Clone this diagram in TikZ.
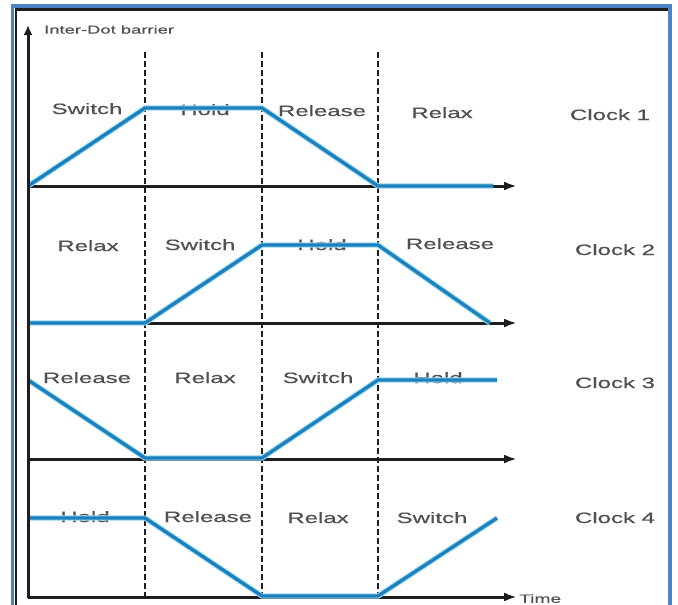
\documentclass[tikz,border=0pt]{standalone}
\usepackage{fontspec}
\setmainfont{Liberation Sans}
\newfontfamily\widefont[FakeStretch=1.6,FakeBold=0.5]{Liberation Sans}
\usetikzlibrary{arrows.meta}
\definecolor{wavecore}{RGB}{28,128,188}
\definecolor{waveglow}{RGB}{150,215,240}
\definecolor{labelgray}{RGB}{80,80,80}
\definecolor{frameblue}{RGB}{75,130,200}
\definecolor{axisblack}{RGB}{30,30,30}
\tikzset{
  axisline/.style={line width=3pt, draw=axisblack, -{Latex[length=13pt,width=9pt]}},
  divider/.style={line width=2.8pt, draw=axisblack, dash pattern=on 6pt off 3pt},
  waveline/.style={line width=3.2pt, draw=wavecore, line join=miter,
    preaction={draw=waveglow, line width=5.4pt}},
  lbl/.style={font=\widefont\fontsize{15}{16}\selectfont, text=labelgray, anchor=base, inner sep=0pt},
  small/.style={font=\widefont\fontsize{#1}{#1}\selectfont, text=labelgray, anchor=west, inner sep=0pt}
}
\begin{document}
\begin{tikzpicture}[x=1pt,y=-1pt]
  \useasboundingbox[fill=white] (0,0) rectangle (678,605);

  % outer frame
  \draw[frameblue, line width=3.2pt] (12.5,610) -- (12.5,6) -- (670,6) -- (670,610);
  \draw[axisblack, line width=2.2pt] (16,610) -- (16,9.5) -- (668,9.5);

  % phase dividers
  \foreach \x in {145,262,378}
    \draw[divider] (\x,52) -- (\x,600);

  % time axes of the four clocks
  \coordinate (o1) at (28,186);
  \coordinate (o2) at (28,323);
  \coordinate (o3) at (28,459);
  \coordinate (o4) at (28,597);
  \draw[axisline] (o1) -- (517,186);
  \draw[axisline] (o2) -- (517,323);
  \draw[axisline] (o3) -- (517,459);
  \draw[axisline] (o4) -- (517,597);

  % axis titles
  \node[small=11.5] (ylab) at (44,29.5) {Inter-Dot barrier};
  \node[small=12] (tlab) at (519,598.5) {Time};

  % clock 1
  \node[lbl] (c1a) at (87,114) {Switch};
  \node[lbl] (c1b) at (205,115) {Hold};
  \node[lbl] (c1c) at (322,116) {Release};
  \node[lbl] (c1d) at (442,118) {Relax};
  \node[lbl] (c1n) at (610,120) {Clock 1};
  % clock 2
  \node[lbl] (c2a) at (88,251) {Relax};
  \node[lbl] (c2b) at (200,250) {Switch};
  \node[lbl] (c2c) at (322,250) {Hold};
  \node[lbl] (c2d) at (450,249) {Release};
  \node[lbl] (c2n) at (615,255) {Clock 2};
  % clock 3
  \node[lbl] (c3a) at (87,383) {Release};
  \node[lbl] (c3b) at (205,383) {Relax};
  \node[lbl] (c3c) at (318,383) {Switch};
  \node[lbl] (c3d) at (438,383) {Hold};
  \node[lbl] (c3n) at (615,388) {Clock 3};
  % clock 4
  \node[lbl] (c4a) at (85,522) {Hold};
  \node[lbl] (c4b) at (208,522) {Release};
  \node[lbl] (c4c) at (318,523) {Relax};
  \node[lbl] (c4d) at (432,523) {Switch};
  \node[lbl] (c4n) at (615,523) {Clock 4};

  % clock waveforms
  \draw[waveline] (o1) -- (145,108) -- (262,108) -- (378,186) -- (493,186);
  \draw[waveline] (o2) -- (145,323) -- (262,245) -- (378,245) -- (490,323);
  \draw[waveline] (28,380) -- (145,458) -- (262,458) -- (378,380) -- (497,380);
  \draw[waveline] (28,518) -- (145,518) -- (262,596) -- (378,596) -- (497,518);

  % barrier axis
  \draw[axisline, -{Latex[length=10pt,width=9pt]}] (28,598) -- (28,25);
\end{tikzpicture}
\end{document}
